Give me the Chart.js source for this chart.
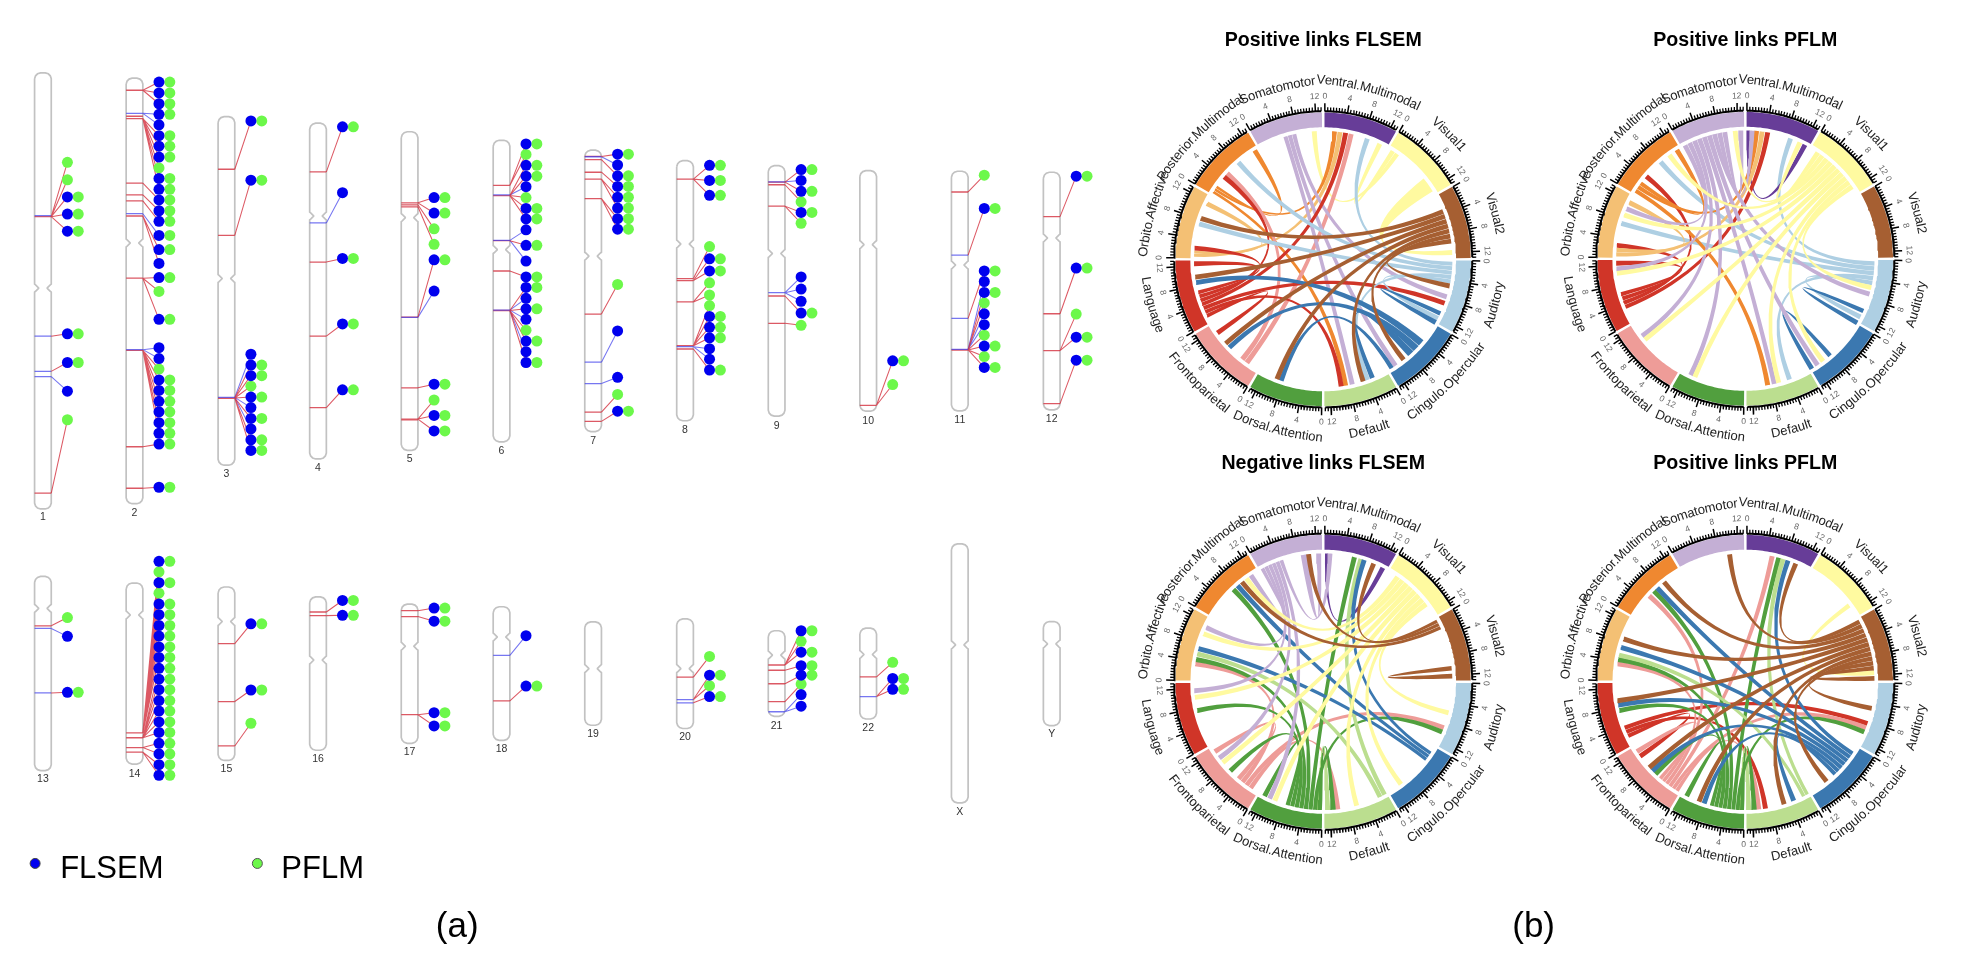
<!DOCTYPE html>
<html><head><meta charset="utf-8"><title>Chromosome ideograms and chord diagrams</title>
<style>html,body{margin:0;padding:0;background:#fff}canvas{display:block;filter:blur(0.45px)}</style>
<script src="https://cdn.jsdelivr.net/npm/chart.js@4"></script></head>
<body><canvas id="c" width="1964" height="960"></canvas>
<script>
// ---------- Panel (a): ideogram readings ----------
const panelOffsets = [[0,40],[540,100],[0,530],[540,530]];
// name, panel, centre, top, centromere, bottom, label position
const chromosomes = [
 ["1",0,104,83,737,1408,1433],["2",0,362,99,600,1392,1420],["3",0,621,216,708,1275,1303],
 ["4",0,879,236,518,1256,1285],["5",0,1137,262,523,1230,1258],["6",0,1396,288,620,1204,1232],
 ["7",1,142,138,460,993,1021],["8",1,401,170,423,960,988],["9",1,659,185,452,946,975],
 ["10",1,917,200,425,931,960],["11",1,1175,202,487,930,958],["12",1,1434,205,405,927,956],
 ["13",2,104,143,240,733,760],["14",2,362,163,260,713,742],["15",2,621,175,280,702,729],
 ["16",2,879,205,397,671,699],["17",2,1137,227,355,650,676],["18",2,1396,235,327,641,669],
 ["19",3,142,281,423,595,622],["20",3,401,272,423,605,632],["21",3,659,308,382,568,597],
 ["22",3,917,300,380,576,603],["X",3,1175,44,351,831,858],["Y",3,1434,280,348,596,622]
];
// band position, colour code (r red, b blue, m blue band with red connector), hits:
// b = both methods, f = FLSEM only, p = PFLM only
const bands = {
 "1":[[517,'b',{}],[520,'r',{p:[355,408],b:[460,512,564]}],[883,'m',{b:[876]}],[990,'m',{b:[963]}],[1006,'b',{f:[1050]}],[1360,'r',{p:[1137]}]],
 "2":[[136,'r',{b:[111,144,177]}],[206,'b',{b:[209],f:[241]}],[222,'r',{b:[274,306,339,404,437],p:[372]}],[215,'r',{}],[418,'r',{b:[469]}],[454,'r',{b:[502]}],[472,'r',{b:[534]}],[511,'b',{b:[577]}],[518,'r',{b:[620],f:[662]}],[707,'r',{b:[705,832],p:[747]}],[924,'b',{f:[918,951]}],[926,'r',{p:[983],b:[1016,1048,1081,1113,1146,1178]}],[1219,'r',{b:[1211]}],[1345,'r',{b:[1342]}]],
 "3":[[376,'r',{b:[229]}],[577,'r',{b:[409]}],[1069,'b',{f:[938,1100,1165]}],[1071,'r',{b:[971,1003,1068,1133,1198,1230],p:[1035]}],[1072,'r',{}]],
 "4":[[384,'r',{b:[247]}],[539,'b',{f:[447]}],[658,'r',{b:[647]}],[883,'r',{b:[846]}],[1100,'r',{b:[1046]}]],
 "5":[[478,'r',{b:[462,509]}],[484,'r',{p:[557]}],[490,'r',{p:[604]}],[825,'r',{b:[651]}],[826,'b',{f:[746]}],[1040,'r',{b:[1029]}],[1135,'r',{p:[1077],b:[1124,1171]}],[1137,'r',{}]],
 "6":[[425,'r',{b:[299],p:[331]}],[454,'b',{f:[429]}],[456,'r',{b:[364,397,495,527],p:[462]}],[593,'r',{b:[607]}],[592,'b',{f:[560,655]}],[685,'r',{b:[703]}],[804,'b',{f:[768,832,930]}],[805,'r',{b:[735,800,898,963],p:[865]}]],
 "7":[[157,'r',{b:[150]}],[158,'b',{f:[183]}],[167,'r',{b:[216]}],[205,'r',{b:[248]}],[226,'r',{b:[281,314]}],[285,'r',{b:[346,378]}],[636,'r',{p:[546]}],[782,'b',{f:[687]}],[847,'b',{f:[828]}],[934,'r',{p:[880]}],[962,'r',{b:[931]}]],
 "8":[[226,'r',{b:[184,230,275]}],[528,'r',{p:[431]}],[534,'r',{b:[468,505]}],[599,'r',{p:[541,578]}],[732,'r',{p:[610],b:[643,676,708]}],[735,'b',{f:[741,773]}],[742,'r',{b:[806]}]],
 "9":[[234,'b',{f:[230]}],[235,'r',{b:[197,263]}],[243,'r',{p:[295]}],[308,'r',{b:[327],p:[360]}],[571,'b',{f:[523,560,597]}],[581,'r',{b:[633]}],[664,'r',{p:[670]}]],
 "10":[[913,'r',{b:[778],p:[850]}]],
 "11":[[265,'r',{p:[214]}],[457,'m',{b:[315]}],[649,'m',{b:[505]}],[743,'b',{f:[537,635,668]}],[745,'r',{b:[570,733,798],p:[602,700,765]}]],
 "12":[[340,'r',{b:[217]}],[635,'r',{b:[496]}],[747,'r',{p:[636],b:[706]}],[908,'r',{b:[776]}]],
 "13":[[293,'r',{p:[268]}],[301,'b',{f:[325]}],[497,'m',{b:[495]}]],
 "14":[[618,'r',{b:[97,162,227,259,292,324,357,389],p:[129,194]}],[633,'r',{b:[422,455,487,520,552,585,617]}],[663,'r',{b:[650,682]}],[677,'r',{b:[715,747]}]],
 "15":[[347,'r',{b:[287]}],[523,'r',{b:[488]}],[658,'r',{p:[589]}]],
 "16":[[251,'r',{b:[216]}],[262,'r',{b:[261]}]],
 "17":[[247,'r',{b:[239]}],[265,'r',{b:[279]}],[563,'r',{b:[557,597]}]],
 "18":[[383,'b',{f:[323]}],[521,'r',{b:[476]}]],
 "20":[[449,'r',{p:[386]}],[517,'m',{b:[443],p:[475]}],[527,'m',{b:[508]}]],
 "21":[[412,'r',{b:[308,373],p:[340]}],[428,'r',{b:[414]}],[469,'r',{b:[443]}],[523,'r',{p:[470]}],[554,'b',{f:[502,537]}]],
 "22":[[448,'r',{p:[404]}],[508,'m',{b:[453,486]}]]
};
const methodNames = ["FLSEM","PFLM"];
const methodColors = ["#0000ee","#6cf84a"];

// ---------- Panel (b): chord readings ----------
const sectorNames = ["Ventral.Multimodal","Visual1","Visual2","Auditory","Cingulo.Opercular","Default","Dorsal.Attention","Frontoparietal","Language","Orbito.Affective","Posterior.Multimodal","Somatomotor"];
const sectorColors = ["#673d98","#fffaa0","#a65f32","#aecfe3","#3b78b0","#bbde8f","#519f3e","#ee9c98","#d03528","#f4c074","#ef8830","#c4afd5"];
const tickLabels = [0,4,8,12];
// colour sector, band start, band end, far ends (degrees clockwise from the top)
const linksPosFlsem = [
 [1,51,58,[87]],[1,31.5,36,[26,356]],[9,271,274,[7.5,295.7]],[10,301,305,[5,328,170]],
 [7,215,220,[12.5,312]],[11,342,348,[167,146,107]],[8,243,256,[235,172,110,10,310,275,268]],
 [3,91,101,[20,319,286,160,117.5]],[4,114,116,[119.5]],[4,147,149,[199]],[4,129,139,[259.5,226.6,157.6]],
 [2,67,83,[288.6,262,229,201,162,141.5,102]]
];
const linksPosPflm = [
 [3,91,102,[20.5,319,286,160,117]],[0,0.5,2,[27.5]],[4,113,115,[120]],[4,138,140,[149]],
 [8,247,255,[10,276,268,310]],[9,271,275,[7.5,296]],[10,301,307,[5,328,170]],
 [11,331,352,[3,358,293,265.5,233,205,167,146,106]],
 [1,33,57,[25,355.5,324,290,263.5,231,203,165,143,103]]
];
const linksNegFlsem = [
 [0,0.8,2.2,[27.5]],[7,213,222,[278,237,173.5,111]],[5,181,183,[178]],[6,180.5,197,[14,316,280,257,226,207,175.5,113]],
 [5,150.5,155,[17,282.5]],[4,123,128,[18.5,318.5,285]],[11,350,353,[358]],[11,331,342,[3,326,295,266,233.5,204.5]],
 [1,34,54,[323.5,292,263,231,202,165,143,104]],[2,83,85,[87.5]],[2,61,66,[23,353.5,321]]
];
const linksPosPflm2 = [
 [1,52.5,54.5,[86]],[8,244,250,[234.5,171,109]],[7,211,222,[12,312,278,237,174,111]],
 [5,181,183,[178.5]],[6,180.5,196,[15,315,280,257,224,207,176,113]],[5,150.5,154,[17,282]],
 [4,123,137,[19.3,317,285.5,259.5,226,198.6,158]],[2,61,85,[23,353,321,289.5,261.5,228,201,162.5,141,102,88.5]]
];
const diagrams = [
 {title:"Positive links FLSEM",cx:1325.3,cy:256.5,links:linksPosFlsem,ty:35},
 {title:"Positive links PFLM",cx:1750,cy:256,links:linksPosPflm,ty:35},
 {title:"Negative links FLSEM",cx:1325.3,cy:684.3,links:linksNegFlsem,ty:463},
 {title:"Positive links PFLM",cx:1750,cy:684.3,links:linksPosPflm2,ty:463}
];
const RING_OUT=148.7, RING_IN=133.7, RIBBON=130, TICK_BASE=150, LABEL_R=165, NAME_R=179, NAME_BEND=280;
const END_WIDTH=2.2, DEG_PER_UNIT=2.2, SECTOR_START=0.6;

// ---------- Geometry through chart data ----------
const rad=d=>d*Math.PI/180;
const pol=(cx,cy,r,a)=>({x:cx+r*Math.sin(rad(a)),y:cy-r*Math.cos(rad(a))});
const datasets=[];
const add=d=>{d.order=-datasets.length;d.pointRadius=d.pointRadius||0;d.showLine=d.showLine!==false;d.tension=0;d.spanGaps=false;datasets.push(d);};
const GAP={x:null,y:null};

// chromosomes
const zx=(p,v)=>panelOffsets[p][0]+v/2.8, zy=(p,v)=>panelOffsets[p][1]+v/3;
const HALF=23.5, COL1=69, COL2=99.5;
const connectors={r:[],b:[]}, bandLines={r:[],b:[]}, dotsF=[], dotsP=[];
chromosomes.forEach(([name,p,c,top,cen,bot])=>{
  const xm=zx(p,c), t=zy(p,top), b=zy(p,bot), m=zy(p,cen), w=HALF/2.8;
  const outline=[[-w,t+6],[-w+1,t+3],[-w+3,t+1],[-w+6,t],[w-6,t],[w-3,t+1],[w-1,t+3],[w,t+6],
    [w,m-4],[w-1,m-3.2],[w-4,m-0.2],[w-4,m+0.2],[w-1,m+3.2],[w,m+4],[w,b-6],[w-1,b-3],[w-3,b-1],[w-6,b],
    [-w+6,b],[-w+3,b-1],[-w+1,b-3],[-w,b-6],[-w,m+4],[-w+1,m+3.2],[-w+4,m+0.2],[-w+4,m-0.2],[-w+1,m-3.2],[-w,m-4],[-w,t+6]]
    .map(q=>({x:xm+q[0],y:q[1]}));
  add({label:"Chromosome "+name,data:outline,borderColor:"#c2c2c2",borderWidth:1.7,fill:false});
  (bands[name]||[]).forEach(([y,code,hits])=>{
    const by=zy(p,y), bandKey=code==='r'?'r':'b', lineKey=code==='b'?'b':'r';
    bandLines[bandKey].push({x:xm-w,y:by},{x:xm+w,y:by},GAP);
    const x1=zx(p,c+COL1), x2=zx(p,c+COL2);
    const link=v=>{connectors[lineKey].push({x:xm+w,y:by},{x:x1,y:zy(p,v)},GAP);};
    (hits.b||[]).forEach(v=>{link(v);dotsF.push({x:x1,y:zy(p,v)});dotsP.push({x:x2,y:zy(p,v)});});
    (hits.f||[]).forEach(v=>{link(v);dotsF.push({x:x1,y:zy(p,v)});});
    (hits.p||[]).forEach(v=>{link(v);dotsP.push({x:x1,y:zy(p,v)});});
  });
});
const RED="rgba(210,42,56,0.78)", BLUE="rgba(60,60,235,0.7)";
add({label:"Bands red",data:bandLines.r,borderColor:RED,borderWidth:1.3});
add({label:"Bands blue",data:bandLines.b,borderColor:BLUE,borderWidth:1.3});
add({label:"Connectors blue",data:connectors.b,borderColor:BLUE,borderWidth:1.05});
add({label:"Connectors red",data:connectors.r,borderColor:RED,borderWidth:1.05});
add({label:methodNames[1],data:dotsP,showLine:false,pointRadius:5.5,pointBackgroundColor:methodColors[1],pointBorderWidth:0});
add({label:methodNames[0],data:dotsF,showLine:false,pointRadius:5.5,pointBackgroundColor:methodColors[0],pointBorderWidth:0});
add({label:methodNames[0]+" key",data:[{x:29.3,y:868.3}],showLine:false,pointRadius:5,pointBackgroundColor:methodColors[0],pointBorderColor:"#444",pointBorderWidth:1});
add({label:methodNames[1]+" key",data:[{x:252.9,y:868.3}],showLine:false,pointRadius:5,pointBackgroundColor:methodColors[1],pointBorderColor:"#555",pointBorderWidth:1});

// chord diagrams
function arcPts(cx,cy,r,a,b){const n=Math.max(1,Math.ceil(Math.abs(b-a)));const o=[];for(let i=0;i<=n;i++)o.push(pol(cx,cy,r,a+(b-a)*i/n));return o;}
function curve(ctrl,p,q){const o=[];for(let i=1;i<24;i++){const t=i/24,s=1-t;o.push({x:s*s*p.x+2*s*t*ctrl.x+t*t*q.x,y:s*s*p.y+2*s*t*ctrl.y+t*t*q.y});}return o;}
function ribbon(cx,cy,a1,a2,b1,b2){
  const A=arcPts(cx,cy,RIBBON,a1,a2),B=arcPts(cx,cy,RIBBON,b1,b2);
  const sep=(b1-a2+360)%360, sep2=(a1-b2+360)%360, d=Math.min(sep,sep2);
  const shift=1.3*Math.sin(rad(d/2));
  const c1=pol(cx,cy,shift,a2+sep/2), c2=pol(cx,cy,shift,b2+sep2/2);
  return [...A,...curve(c1,A[A.length-1],B[0]),...B,...curve(c2,B[B.length-1],A[0]),A[0]];
}
diagrams.forEach(d=>{
  d.links.forEach(([col,s,e,targets])=>{
    const sorted=[...targets].sort((u,v)=>((v-s+360)%360)-((u-s+360)%360));
    const step=(e-s)/sorted.length;
    sorted.forEach((t,i)=>{
      const a1=s+i*step+(sorted.length>1?0.08:0), a2=s+(i+1)*step-(sorted.length>1?0.08:0);
      add({label:d.title+" link "+sectorNames[col],data:ribbon(d.cx,d.cy,a1,a2,t-END_WIDTH/2,t+END_WIDTH/2),borderWidth:0,backgroundColor:sectorColors[col],fill:'shape'});
    });
  });
  sectorColors.forEach((col,i)=>{
    const a=30*i+0.5,b=30*i+29.5;
    add({label:sectorNames[i],data:[...arcPts(d.cx,d.cy,RING_OUT,a,b),...arcPts(d.cx,d.cy,RING_IN,b,a),pol(d.cx,d.cy,RING_OUT,a)],borderWidth:0,backgroundColor:col,fill:'shape'});
  });
  const minor=[],major=[],base=[];
  sectorColors.forEach((_,i)=>{
    const a0=30*i+SECTOR_START;
    base.push(...arcPts(d.cx,d.cy,TICK_BASE,a0,a0+13*DEG_PER_UNIT),GAP);
    for(let k=0;k<=26;k++){
      const v=k/2,a=a0+v*DEG_PER_UNIT,isMajor=k%8===0;
      (isMajor?major:minor).push(pol(d.cx,d.cy,TICK_BASE,a),pol(d.cx,d.cy,TICK_BASE+(isMajor?8:4),a),GAP);
    }
  });
  add({label:d.title+" axis",data:base,borderColor:"#000",borderWidth:2});
  add({label:d.title+" minor ticks",data:minor,borderColor:"#000",borderWidth:1.3});
  add({label:d.title+" major ticks",data:major,borderColor:"#000",borderWidth:1.5});
});

// ---------- Text drawn from the same scales ----------
const FONT='"Liberation Sans", Arial, sans-serif';
const textPlugin={id:'texts',afterDraw(chart){
  const ctx=chart.ctx,X=chart.scales.x,Y=chart.scales.y;
  const P=(x,y)=>[X.getPixelForValue(x),Y.getPixelForValue(y)];
  ctx.save();ctx.textAlign='center';ctx.textBaseline='middle';
  // chromosome names
  ctx.font='10.5px '+FONT;ctx.fillStyle='#333';
  chromosomes.forEach(([name,p,c,,,,ly])=>{const [x,y]=P(zx(p,c),zy(p,ly));ctx.fillText(name,x,y);});
  // legend and panel tags
  ctx.fillStyle='#000';ctx.textAlign='left';ctx.textBaseline='alphabetic';ctx.font='31px '+FONT;
  let q=P(54.5,883);ctx.fillText(methodNames[0],q[0],q[1]);
  q=P(277,883);ctx.fillText(methodNames[1],q[0],q[1]);
  ctx.textAlign='center';ctx.font='35px '+FONT;
  q=P(454,943);ctx.fillText("(a)",q[0],q[1]);
  q=P(1537,943);ctx.fillText("(b)",q[0],q[1]);
  // diagrams
  diagrams.forEach(d=>{
    ctx.textBaseline='middle';ctx.textAlign='center';
    ctx.font='bold 19.6px '+FONT;ctx.fillStyle='#000';
    q=P(d.cx,d.ty);ctx.fillText(d.title,q[0],q[1]);
    sectorNames.forEach((nm,i)=>{
      const lower=30*i+15>90&&30*i+15<270;
      // tick numbers
      ctx.font='8.5px '+FONT;ctx.fillStyle='#666';
      tickLabels.forEach(v=>{
        const a=30*i+SECTOR_START+v*DEG_PER_UNIT,pt=pol(d.cx,d.cy,LABEL_R,a),s=P(pt.x,pt.y);
        ctx.save();ctx.translate(s[0],s[1]);ctx.rotate(rad(lower?a-180:a));ctx.fillText(String(v),0,0);ctx.restore();
      });
      // bent sector name
      ctx.font='13.1px '+FONT;ctx.fillStyle='#222';
      const total=ctx.measureText(nm).width,mid=30*i+15;
      const bendC=pol(d.cx,d.cy,NAME_R-NAME_BEND,mid);
      let used=0;
      for(let k=0;k<nm.length;k++){
        const w=ctx.measureText(nm.slice(0,k+1)).width-ctx.measureText(nm.slice(0,k)).width;
        const off=(used+w/2-total/2)/NAME_BEND*180/Math.PI;
        const a=lower?mid-off:mid+off;
        const pt=pol(bendC.x,bendC.y,NAME_BEND,a),s=P(pt.x,pt.y);
        ctx.save();ctx.translate(s[0],s[1]);ctx.rotate(rad(lower?a-180:a));ctx.fillText(nm[k],0,0);ctx.restore();
        used+=w;
      }
    });
  });
  ctx.restore();
}};

new Chart(document.getElementById('c'),{
  type:'scatter',
  data:{datasets},
  plugins:[textPlugin],
  options:{
    responsive:false,animation:false,devicePixelRatio:1,events:[],
    layout:{padding:0},
    plugins:{legend:{display:false},tooltip:{enabled:false},title:{display:false}},
    scales:{x:{type:'linear',min:0,max:1964,display:false},y:{type:'linear',min:0,max:960,reverse:true,display:false}}
  }
});
</script></body></html>
